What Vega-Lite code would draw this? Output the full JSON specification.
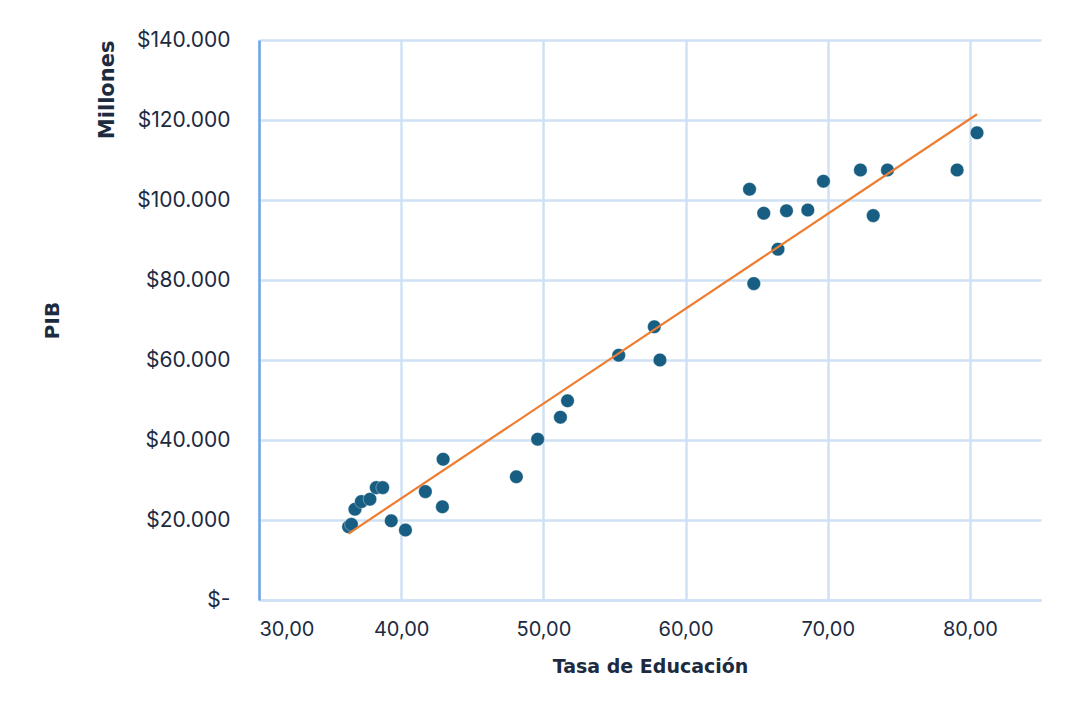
{
  "$schema": "https://vega.github.io/schema/vega-lite/v6.json",
  "width": 782,
  "height": 560,
  "autosize": {"type": "none"},
  "padding": {"left": 259, "top": 40, "right": 51, "bottom": 111},
  "background": "white",
  "config": {
    "view": {"stroke": null},
    "locale": {"number": {"decimal": ",", "thousands": ".", "grouping": [3], "currency": ["$", ""]}}
  },
  "data": {
    "values": [
      {"edu": 36.3, "pib": 18300},
      {"edu": 36.5, "pib": 18900},
      {"edu": 36.75, "pib": 22700},
      {"edu": 37.2, "pib": 24600},
      {"edu": 37.8, "pib": 25200},
      {"edu": 38.25, "pib": 28100},
      {"edu": 38.7, "pib": 28100},
      {"edu": 39.3, "pib": 19800},
      {"edu": 40.3, "pib": 17500},
      {"edu": 41.7, "pib": 27100},
      {"edu": 42.9, "pib": 23300},
      {"edu": 42.95, "pib": 35200},
      {"edu": 48.1, "pib": 30800},
      {"edu": 49.6, "pib": 40200},
      {"edu": 51.2, "pib": 45700},
      {"edu": 51.7, "pib": 49800},
      {"edu": 55.3, "pib": 61200},
      {"edu": 57.8, "pib": 68300},
      {"edu": 58.2, "pib": 60000},
      {"edu": 64.5, "pib": 102700},
      {"edu": 64.8, "pib": 79100},
      {"edu": 65.5, "pib": 96700},
      {"edu": 66.5, "pib": 87700},
      {"edu": 67.1, "pib": 97300},
      {"edu": 68.6, "pib": 97500},
      {"edu": 69.7, "pib": 104700},
      {"edu": 72.3, "pib": 107500},
      {"edu": 73.2, "pib": 96100},
      {"edu": 74.2, "pib": 107500},
      {"edu": 79.1, "pib": 107500},
      {"edu": 80.5, "pib": 116800}
    ]
  },
  "layer": [
    {
      "mark": {"type": "point", "filled": true, "opacity": 1, "size": 185, "color": "#175E82", "stroke": "#ffffff", "strokeWidth": 0.6, "strokeOpacity": 0.6},
      "encoding": {
        "x": {
          "field": "edu", "type": "quantitative",
          "scale": {"domain": [30, 85], "nice": false, "zero": false},
          "axis": {
            "title": "Tasa de Educación",
            "values": [30, 40, 50, 60, 70, 80],
            "format": ".2f",
            "labelFont": "Inter, sans-serif",
            "labelFontSize": 20,
            "labelColor": "#1C2B3F",
            "labelPadding": 19,
            "ticks": false,
            "tickSize": 0,
            "domain": true,
            "domainColor": "#CFE1F5",
            "domainWidth": 2.5,
            "grid": true,
            "gridColor": "#CFE1F5",
            "gridWidth": 2.5,
            "titleFont": "DejaVu Sans, sans-serif",
            "titleFontSize": 19,
            "titleFontWeight": "bold",
            "titleColor": "#1C2B3F",
            "titlePadding": 18
          }
        },
        "y": {
          "field": "pib", "type": "quantitative",
          "scale": {"domain": [0, 140000], "nice": false},
          "axis": {
            "title": "PIB",
            "values": [0, 20000, 40000, 60000, 80000, 100000, 120000, 140000],
            "format": "$,d",
            "labelExpr": "datum.value === 0 ? '$-' : datum.label",
            "labelFont": "Inter, sans-serif",
            "labelFontSize": 21,
            "labelColor": "#1C2B3F",
            "labelPadding": 29,
            "ticks": false,
            "tickSize": 0,
            "domain": true,
            "domainColor": "#6FA6E6",
            "domainWidth": 2.5,
            "grid": true,
            "gridColor": "#CFE1F5",
            "gridWidth": 2.5,
            "titleFont": "DejaVu Sans, sans-serif",
            "titleFontSize": 20,
            "titleFontWeight": "bold",
            "titleColor": "#1C2B3F",
            "titleX": -197
          }
        }
      }
    },
    {
      "transform": [{"regression": "pib", "on": "edu"}],
      "mark": {"type": "line", "color": "#ED7D31", "strokeWidth": 2.2},
      "encoding": {
        "x": {"field": "edu", "type": "quantitative"},
        "y": {
          "field": "pib", "type": "quantitative",
          "axis": {
            "orient": "left",
            "title": "Millones",
            "labels": false,
            "ticks": false,
            "domain": false,
            "grid": false,
            "titleAnchor": "end",
            "titleFont": "DejaVu Sans, sans-serif",
            "titleFontSize": 21,
            "titleFontWeight": "bold",
            "titleColor": "#1C2B3F",
            "titleX": -142
          }
        }
      }
    }
  ],
  "resolve": {"axis": {"y": "independent"}}
}
